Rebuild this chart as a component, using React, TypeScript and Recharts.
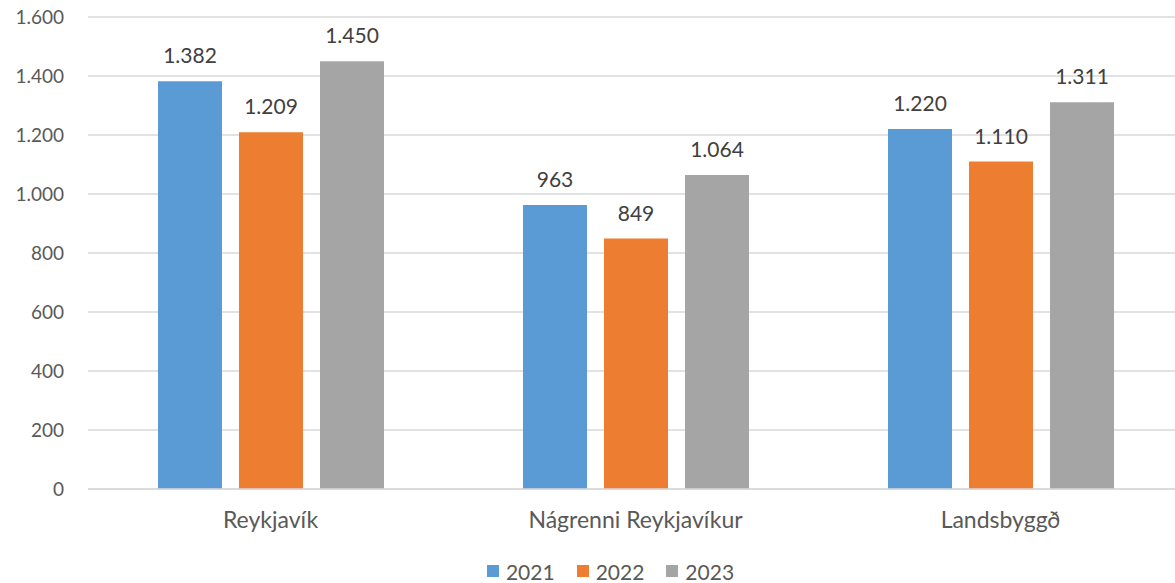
import { Bar, BarChart, CartesianGrid, LabelList, Legend, XAxis, YAxis } from "recharts";

const categories = ["Reykjavík", "Nágrenni Reykjavíkur", "Landsbyggð"];
const y2021 = [1382, 963, 1220];
const y2022 = [1209, 849, 1110];
const y2023 = [1450, 1064, 1311];
const yTicks = [0, 200, 400, 600, 800, 1000, 1200, 1400, 1600];

const data = categories.map((name, i) => ({ name, y2021: y2021[i], y2022: y2022[i], y2023: y2023[i] }));

const FONT = "Lato, 'Open Sans', sans-serif";
const fmt = (v: number) => String(v).replace(/\B(?=(\d{3})+(?!\d))/g, ".");

const series = [
  { key: "y2021", name: "2021", color: "#5B9BD5" },
  { key: "y2022", name: "2022", color: "#ED7D31" },
  { key: "y2023", name: "2023", color: "#A5A5A5" },
];

function LegendBox() {
  return (
    <div style={{ display: "flex", justifyContent: "center", alignItems: "center", gap: 22, height: 24, marginLeft: 38 }}>
      {series.map((s) => (
        <span key={s.key} style={{ display: "flex", alignItems: "center", gap: 7, color: "#595959", fontSize: 21, fontFamily: FONT }}>
          <span style={{ display: "inline-block", width: 12, height: 12, background: s.color }} />
          {s.name}
        </span>
      ))}
    </div>
  );
}

export default function App() {
  return (
    <div style={{ position: "absolute", left: 0, top: 0, width: 1175, height: 583, overflow: "hidden", background: "#fff", fontFamily: FONT }}>
      <BarChart width={1183} height={583} data={data} margin={{ top: 17, right: 0, left: 0, bottom: 0 }} barGap={17} barSize={64}>
        <CartesianGrid stroke="#D9D9D9" strokeWidth={1.5} vertical={false} />
        <XAxis
          dataKey="name"
          axisLine={{ stroke: "#D9D9D9", strokeWidth: 1.5 }}
          tickLine={false}
          tickSize={0}
          tickMargin={23}
          height={70}
          tick={{ fill: "#595959", fontSize: 23, fontFamily: FONT }}
        />
        <YAxis
          domain={[0, 1600]}
          ticks={yTicks}
          interval={0}
          width={88}
          axisLine={false}
          tickLine={false}
          tickSize={0}
          tickMargin={24}
          tickFormatter={fmt}
          tick={{ fill: "#595959", fontSize: 19, fontFamily: FONT }}
        />
        <Legend verticalAlign="bottom" height={24} content={<LegendBox />} />
        {series.map((s) => (
          <Bar key={s.key} dataKey={s.key} name={s.name} fill={s.color} isAnimationActive={false}>
            <LabelList dataKey={s.key} position="top" offset={18} formatter={(v: any) => fmt(v)} fill="#404040" fontSize={21} fontFamily={FONT} />
          </Bar>
        ))}
      </BarChart>
    </div>
  );
}
